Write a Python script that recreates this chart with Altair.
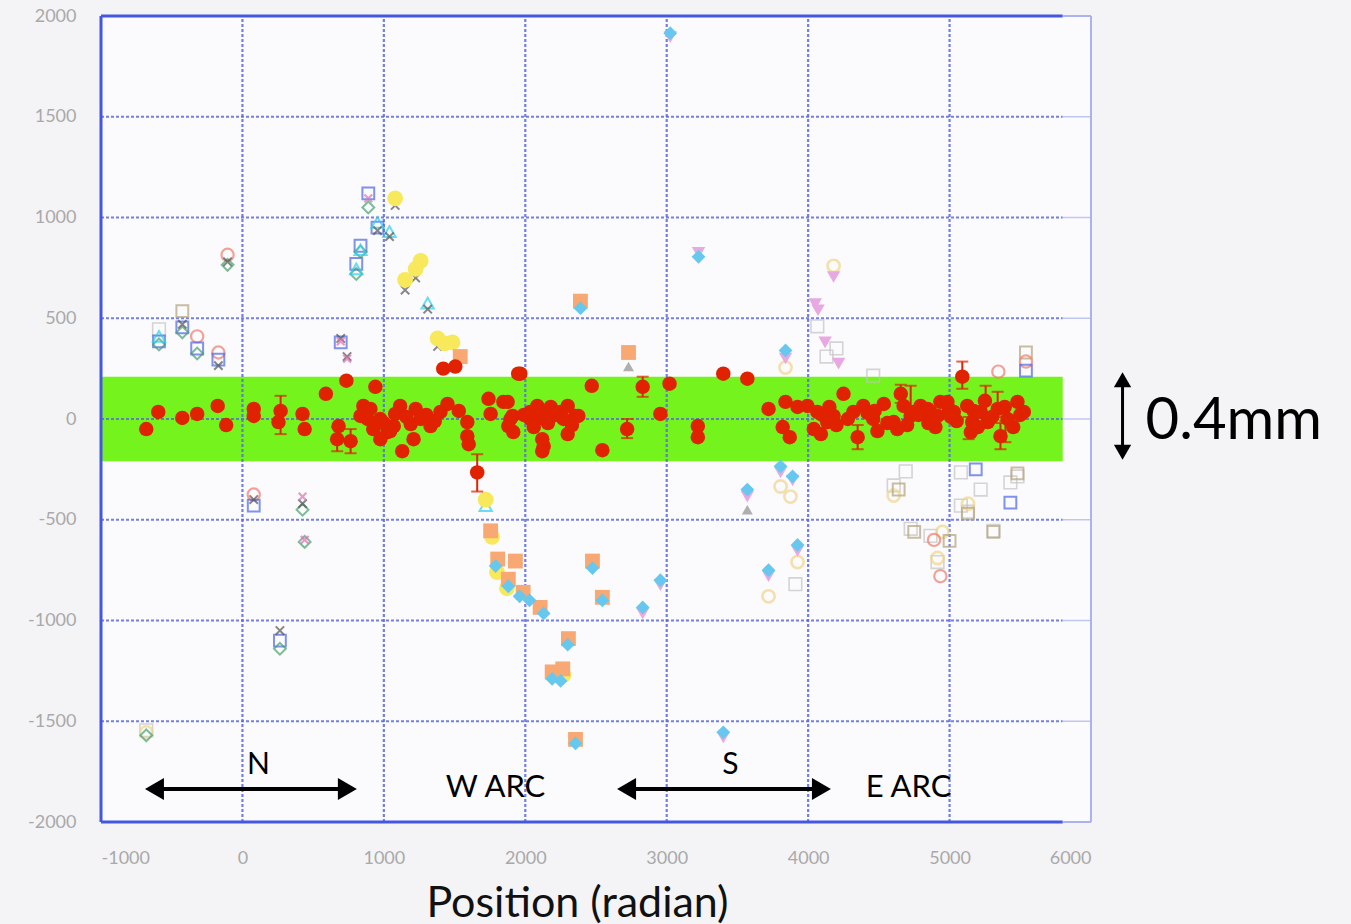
import altair as alt
import pandas as pd

# ---------------- data ----------------
red_x = [-680, -595, -425, -320, -175, -115, 80, 80, 270, 255, 425, 440, 590, 670, 765, 680, 735,
         855, 885, 925, 835, 940, 1115, 1130, 1025, 1070, 1210, 1260, 1330, 1400, 1450, 1530, 1590,
         1420, 1505, 1590, 1600, 1660, 1740, 1845, 1965, 2035, 2085, 2130, 1880, 1910, 1755, 1950,
         1875, 1895, 1915, 2035, 2085, 2130, 2180, 2250, 2300, 2355, 2120, 2120, 2300, 2375, 2470,
         2545, 2830, 2720, 2955, 3020, 3220, 3220, 3400, 3570, 3720, 3820, 3870, 3840, 3925, 3995,
         4065, 4135, 4180, 4250, 4320, 4390, 4460, 4535, 4605, 4655, 4725, 4795, 4865, 4935, 4995,
         4350, 4040, 4090, 4630, 4490, 5090, 4675, 4745, 4845, 4915, 4985, 5030, 5125, 5160, 5220,
         5270, 5340, 5410, 5480, 5525, 5360, 5150, 905, 975, 1045, 1080, 1190, 1225, 975,
         4100, 4200, 4280, 4420, 4560, 4700, 4780, 4900, 5050, 5200, 5300, 5450, 5500, 5390, 5250,
         1990, 2060, 2160, 2210, 2270, 2330, 1000, 1160, 1300, 1360, 4150, 4470, 4850, 5010, 5170]
red_y = [-50, 35, 5, 25, 65, -30, 50, 15, 40, -15, 25, -50, 125, -100, -110, -35, 190,
         65, 0, -50, 15, 160, 65, -160, -65, -35, -100, 0, -35, 35, 75, 40, -15,
         250, 260, -85, -125, -265, 100, 85, 225, 35, 0, -135, -35, 15, 25, 225,
         85, 0, -65, 0, 65, 35, 60, 35, 65, 15, -100, -160, -75, 15, 165,
         -155, 160, -50, 25, 175, -35, -90, 225, 200, 50, -40, -90, 85, 60, 65,
         35, -15, 15, 125, 35, 65, 0, 75, -15, 125, 15, 65, 35, 85, 50,
         -90, -50, -75, -50, -60, 210, 65, 35, 50, 15, 85, 35, 65, -15, 35,
         -15, 50, 0, 85, 35, -85, -65, 50, 0, -60, 25, -25, 50, -100,
         20, -30, 0, 30, -20, -30, 20, -40, -10, -40, 10, -40, 20, 60, 90,
         20, -40, -20, 20, 0, -30, -20, 10, 20, -10, 60, 40, -20, 10, 40]

err_x = [270, 670, 765, 1660, 2830, 2720, 4350, 5090, 5360, 4725, 5255, 5340, 5135, 5395, 4655]
err_lo = [-75, -160, -170, -360, 110, -95, -150, 150, -150, 20, 20, 10, -100, -115, 80]
err_hi = [115, -40, -50, -175, 210, 0, -30, 285, -20, 165, 165, 135, 10, -10, 170]

# outlier series
A_x = [-425, 5540, 5000, 4750, 5130, 5480, 4640, 5310]
A_y = [535, 330, -605, -560, -470, -270, -350, -560]
B_x = [-320, -170, -105, 80, 4935, 5345, 5540, 4890]
B_y = [410, 330, 815, -375, -780, 235, 285, -600]
C_x = [-590, -425, -320, -170, 80, 265, 695, 805, 835, 890, 955, 5185, 5430, 5540]
C_y = [385, 455, 350, 295, -430, -1100, 380, 770, 860, 1120, 950, -250, -415, 240]
D_x = [-425, -170, -105, 80, 265, 425, 695, 740, 1040, 1080, 1150, 1225, 1310, 1380, 955]
D_y = [470, 265, 780, -400, -1050, -420, 400, 310, 905, 1060, 640, 700, 545, 360, 935]
E_x = [-590, 955, 1040, 1310, 1720, 805, 835]
E_y = [410, 975, 930, 575, -430, 745, 840]
F_x = [-680, -590, -425, -320, -105, 265, 425, 440, 805, 835, 890]
F_y = [-1570, 370, 430, 325, 765, -1140, -450, -610, 720, 830, 1050]
G_x = [1080, 1150, 1225, 1260, 1380, 1430, 1485, 1720, 1765, 1800, 1870, 2270]
G_y = [1095, 690, 745, 785, 400, 375, 380, -400, -585, -760, -840, -1270]
H_x = [1540, 1755, 1805, 1880, 1930, 1985, 2105, 2190, 2265, 2305, 2355, 2475, 2545, 2390, 2730]
H_y = [310, -555, -695, -795, -705, -860, -935, -1255, -1240, -1090, -1590, -705, -885, 585, 330]
I_x = [1790, 1880, 1960, 2030, 2130, 2190, 2250, 2300, 2355, 2475, 2545, 2390, 2830, 2955, 3025,
       3225, 3400, 3840, 3570, 3805, 3890, 3925, 3720]
I_y = [-730, -830, -880, -900, -965, -1290, -1300, -1120, -1610, -740, -900, 550, -935, -800, 1915,
       805, -1555, 340, -350, -235, -285, -625, -750]
J_x = [2830, 2955, 3025, 3225, 3400, 3840, 3570, 3805, 3890, 3925, 3720, 4050, 4120, 4215, 4180, 4070]
J_y = [-965, -825, 1895, 825, -1580, 300, -385, -265, -305, -655, -780, 570, 380, 275, 705, 540]
K_x = [3840, 3805, 3875, 3925, 3720, 4180, 4605, 4950, 5130, 4915, -680]
K_y = [255, -335, -385, -710, -880, 760, -380, -560, -420, -690, -1555]
L_x = [4065, 3910, 4460, 4605, 4690, 4725, 4865, 4915, 5080, 5220, 5080, 5130, 5310, 5480, 5430,
       4130, -590, -680, 4200]
L_y = [460, -820, 215, -330, -260, -545, -580, -710, -265, -350, -430, -460, -555, -285, -315,
       310, 445, -1545, 350]
M_x = [425, 440, 695, 740, 890]
M_y = [-385, -600, 385, 300, 1095]
N_x = [2730, 3570]
N_y = [260, -450]

grid_x = [0, 1000, 2000, 3000, 4000, 5000]
grid_y = [-1500, -1000, -500, 0, 500, 1000, 1500]
x_ticks = [-1000, 0, 1000, 2000, 3000, 4000, 5000, 6000]
y_ticks = [-2000, -1500, -1000, -500, 0, 500, 1000, 1500, 2000]

band = {"x": -1000, "x2": 5800, "y": -210, "y2": 210}

labels_small = ["N", "S"]
labels_small_x = [113, 3451]
labels_small_y = [-1718, -1718]
labels_arc = ["W ARC", "E ARC"]
labels_arc_x = [1790, 4710]
labels_arc_y = [-1830, -1830]

harrow_x1 = [-622, 2716]
harrow_x2 = [742, 4094]
harrow_y = [-1836, -1836]

# ---------------- scales ----------------
xs = alt.Scale(domain=[-1000, 6000], nice=False, zero=False)
ys = alt.Scale(domain=[-2000, 2000], nice=False, zero=False)

xaxis = alt.Axis(values=x_ticks, labelExpr="toString(datum.value)", grid=False, domain=False,
                 ticks=False, labelColor="#a9a9a9", labelFont="Lato", labelFontSize=18,
                 labelPadding=27, title="Position (radian)", titleFont="Lato", titleFontSize=43,
                 titleFontWeight="normal", titleColor="#111111", titleX=476, titleY=94,
                 titleBaseline="alphabetic", titleAlign="center")
yaxis = alt.Axis(values=y_ticks, labelExpr="toString(datum.value)", grid=False, domain=False,
                 ticks=False, labelColor="#a9a9a9", labelFont="Lato", labelFontSize=18,
                 labelPadding=25, title="")

X = lambda f="x": alt.X(f"{f}:Q", scale=xs, axis=xaxis)
Y = lambda f="y": alt.Y(f"{f}:Q", scale=ys, axis=yaxis)


def df(**cols):
    return pd.DataFrame(cols)


layers = []

# green band
layers.append(alt.Chart(df(**{k: [v] for k, v in band.items()})).mark_rect(color="#74f41c").encode(
    x=X(), x2="x2:Q", y=Y(), y2="y2:Q"))

# grid lines
gdash = dict(color="#5a68e0", strokeWidth=2.2, strokeDash=[3, 2], opacity=0.85)
layers.append(alt.Chart(df(x=grid_x, y=[-2000] * len(grid_x), y2=[2000] * len(grid_x)))
              .mark_rule(**gdash).encode(x=X(), y=Y(), y2="y2:Q"))
layers.append(alt.Chart(df(y=grid_y, x=[-1000] * len(grid_y), x2=[5800] * len(grid_y)))
              .mark_rule(**gdash).encode(x=X(), x2="x2:Q", y=Y()))
layers.append(alt.Chart(df(y=grid_y, x=[5800] * len(grid_y), x2=[6000] * len(grid_y)))
              .mark_rule(color="#c0c6f2", strokeWidth=1.5).encode(x=X(), x2="x2:Q", y=Y()))

# frame
layers.append(alt.Chart(df(x=[-1000, -1000, -1000], x2=[-1000, 5800, 5800],
                           y=[-2000, 2000, -2000], y2=[2000, 2000, -2000]))
              .mark_rule(color="#4457e0", strokeWidth=3).encode(x=X(), x2="x2:Q", y=Y(), y2="y2:Q"))
layers.append(alt.Chart(df(x=[6000, 5800, 5800], x2=[6000, 6000, 6000],
                           y=[-2000, 2000, -2000], y2=[2000, 2000, -2000]))
              .mark_rule(color="#aab2f0", strokeWidth=2).encode(x=X(), x2="x2:Q", y=Y(), y2="y2:Q"))


def pts(xv, yv, **kw):
    return alt.Chart(df(x=xv, y=yv)).mark_point(**kw).encode(x=X(), y=Y())


XSHAPE = "M-1,-1L1,1M-1,1L1,-1"
layers += [
    pts(L_x, L_y, shape="square", filled=False, color="#c4c4c4", size=160, strokeWidth=1.6),
    pts(K_x, K_y, shape="circle", filled=False, color="#f0d68a", size=150, strokeWidth=2.6),
    pts(A_x, A_y, shape="square", filled=False, color="#b3a47c", size=140, strokeWidth=2),
    pts(B_x, B_y, shape="circle", filled=False, color="#f07c6c", size=150, strokeWidth=2.2),
    pts(C_x, C_y, shape="square", filled=False, color="#4a66e8", size=140, strokeWidth=2),
    pts(F_x, F_y, shape="diamond", filled=False, color="#4aa070", size=140, strokeWidth=2),
    pts(E_x, E_y, shape="triangle-up", filled=False, color="#2ed0ea", size=150, strokeWidth=2),
    pts(N_x, N_y, shape="triangle-up", filled=True, color="#8e8e8e", size=120),
    pts(D_x, D_y, shape=XSHAPE, filled=False, color="#555555", size=70, strokeWidth=2),
    pts(M_x, M_y, shape=XSHAPE, filled=False, color="#e070b0", size=60, strokeWidth=2.2),
    pts(G_x, G_y, shape="circle", filled=True, color="#f8e85c", size=250, opacity=1),
    pts(H_x, H_y, shape="square", filled=True, color="#f8a872", size=220, opacity=1),
    pts(J_x, J_y, shape="triangle-down", filled=True, color="#e8a8e2", size=180, opacity=1),
    pts(I_x, I_y, shape="diamond", filled=True, color="#66c8ee", size=190, opacity=1),
]

# red error bars and points
RED = "#e02200"
edf = df(x=err_x, lo=err_lo, hi=err_hi)
layers.append(alt.Chart(edf).mark_rule(color=RED, strokeWidth=2).encode(
    x=X(), y=Y("lo"), y2="hi:Q"))
layers.append(alt.Chart(edf).mark_tick(color=RED, thickness=2, size=12, orient="horizontal").encode(
    x=X(), y=Y("lo")))
layers.append(alt.Chart(edf).mark_tick(color=RED, thickness=2, size=12, orient="horizontal").encode(
    x=X(), y=Y("hi")))
layers.append(pts(red_x, red_y, shape="circle", filled=True, color=RED, size=210, opacity=1))

# annotations
layers.append(alt.Chart(df(x=labels_small_x, y=labels_small_y, t=labels_small))
              .mark_text(font="Lato", fontSize=30, color="black", baseline="middle")
              .encode(x=X(), y=Y(), text="t:N"))
layers.append(alt.Chart(df(x=labels_arc_x, y=labels_arc_y, t=labels_arc))
              .mark_text(font="Lato", fontSize=31, color="black", baseline="middle")
              .encode(x=X(), y=Y(), text="t:N"))
layers.append(alt.Chart(df(x=harrow_x1, x2=harrow_x2, y=harrow_y))
              .mark_rule(color="black", strokeWidth=4).encode(x=X(), x2="x2:Q", y=Y()))
layers.append(pts(harrow_x1, harrow_y, shape="triangle-left", filled=True, color="black",
                  size=480, opacity=1))
layers.append(pts(harrow_x2, harrow_y, shape="triangle-right", filled=True, color="black",
                  size=480, opacity=1))

# 0.4mm scale arrow (right margin)
scale_x = [6223]
scale_y_top = [195]
scale_y_bot = [-165]
layers.append(alt.Chart(df(x=scale_x, y=scale_y_bot, y2=scale_y_top))
              .mark_rule(color="black", strokeWidth=3).encode(x=X(), y=Y(), y2="y2:Q"))
layers.append(pts(scale_x, scale_y_top, shape="triangle-up", filled=True, color="black",
                  size=300, opacity=1))
layers.append(pts(scale_x, scale_y_bot, shape="triangle-down", filled=True, color="black",
                  size=300, opacity=1))
layers.append(alt.Chart(df(x=[6386], y=[-100], t=["0.4mm"]))
              .mark_text(font="Lato", fontSize=58, color="black", align="left", baseline="alphabetic")
              .encode(x=X(), y=Y(), text="t:N"))

chart = alt.layer(*layers).properties(
    width=990, height=806,
    autosize=alt.AutoSizeParams(type="none"),
    padding={"left": 101, "top": 16, "right": 260, "bottom": 102},
    background="#f4f4f6",
).configure_view(strokeWidth=0, fill="#fbfbfd")

chart.save("out.html", embed_options={"renderer": "svg", "actions": False})
